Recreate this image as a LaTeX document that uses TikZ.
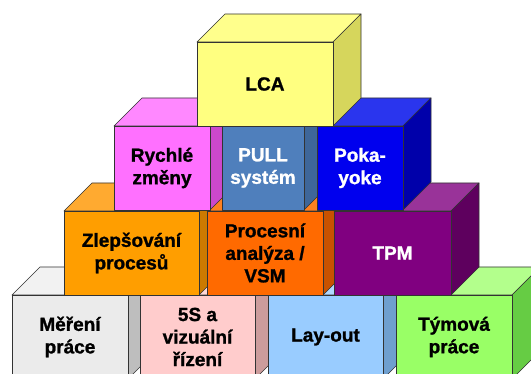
\documentclass[tikz,border=0pt]{standalone}
\usepackage{fontspec}
\setmainfont{Liberation Sans}
\newfontfamily\heavyfont{Liberation Sans}[UprightFont=*-Bold,FakeBold=1.2]
\begin{document}
\begin{tikzpicture}[x=1pt,y=-1pt,
  edge/.style={draw=black!80,line width=0.7pt,line join=round},
  lbl/.style={font=\fontsize{19}{22.5}\selectfont\heavyfont,align=center,inner sep=0pt}]
\definecolor{ylF}{HTML}{FFFF80}\definecolor{ylT}{HTML}{FFFF8C}\definecolor{ylS}{HTML}{D6D65C}
\definecolor{pkF}{HTML}{FF70FF}\definecolor{pkT}{HTML}{FF88FF}\definecolor{pkS}{HTML}{CC48CC}
\definecolor{pbF}{HTML}{4F7FBC}\definecolor{pbT}{HTML}{5F8FCC}\definecolor{pbS}{HTML}{3E6699}
\definecolor{blF}{HTML}{0000EE}\definecolor{blT}{HTML}{2A35EE}\definecolor{blS}{HTML}{0000AA}
\definecolor{orF}{HTML}{FF9E00}\definecolor{orT}{HTML}{FFAA30}\definecolor{orS}{HTML}{CC7A00}
\definecolor{drF}{HTML}{FF6A00}\definecolor{drT}{HTML}{FF8020}\definecolor{drS}{HTML}{C85200}
\definecolor{puF}{HTML}{800080}\definecolor{puT}{HTML}{993399}\definecolor{puS}{HTML}{5E005E}
\definecolor{grF}{HTML}{EBEBEB}\definecolor{grT}{HTML}{F2F2F2}\definecolor{grS}{HTML}{BEBEBE}
\definecolor{rsF}{HTML}{FFCCCC}\definecolor{rsT}{HTML}{FFD8D8}\definecolor{rsS}{HTML}{CC9C9C}
\definecolor{lbF}{HTML}{99CCFF}\definecolor{lbT}{HTML}{B0D8FF}\definecolor{lbS}{HTML}{6F9FCF}
\definecolor{gnF}{HTML}{99FF66}\definecolor{gnT}{HTML}{B3FF8C}\definecolor{gnS}{HTML}{66CC44}
% #1 name, #2 x left, #3 x right, #4 y top, #5 colour prefix, #6 text colour, #7 text
\newcommand{\cubebox}[7]{%
  \path[edge,fill=#5T] (#2,#4) -- ++(28,-28) -- ({#3+28},{#4-28}) -- (#3,#4) -- cycle;
  \path[edge,fill=#5S] (#3,#4) -- ({#3+28},{#4-28}) -- ({#3+28},{#4+56}) -- (#3,{#4+84}) -- cycle;
  \path[edge,fill=#5F] (#2,#4) rectangle (#3,{#4+84});
  \node[lbl,text=#6] (#1) at ({(#2+#3)/2},{#4+42}) {#7};
}
\useasboundingbox (0,0) rectangle (531,374);
\clip (0,0) rectangle (531,374);
\fill[white] (0,0) rectangle (531,374);
% row 4
\cubebox{mereni}{12}{128}{295}{gr}{black}{Měření\\práce}
\cubebox{fives}{140}{255}{295}{rs}{black}{5S a\\vizuální\\řízení}
\cubebox{layout}{268}{383}{295}{lb}{black}{Lay-out}
\cubebox{tymova}{396}{512}{295}{gn}{black}{Týmová\\práce}
% row 3
\cubebox{zlepsovani}{64}{199}{211}{or}{black}{Zlepšování\\procesů}
\cubebox{procesni}{207}{323}{211}{dr}{black}{Procesní\\analýza /\\VSM}
\cubebox{tpm}{334}{451}{211}{pu}{white}{TPM}
% row 2
\cubebox{rychle}{114}{210}{126}{pk}{black}{Rychlé\\změny}
\cubebox{pull}{222}{304}{126}{pb}{white}{PULL\\systém}
\cubebox{poka}{317}{403}{126}{bl}{white}{Poka-\\yoke}
% row 1
\cubebox{lca}{197}{333}{42}{yl}{black}{LCA}
\end{tikzpicture}
\end{document}
